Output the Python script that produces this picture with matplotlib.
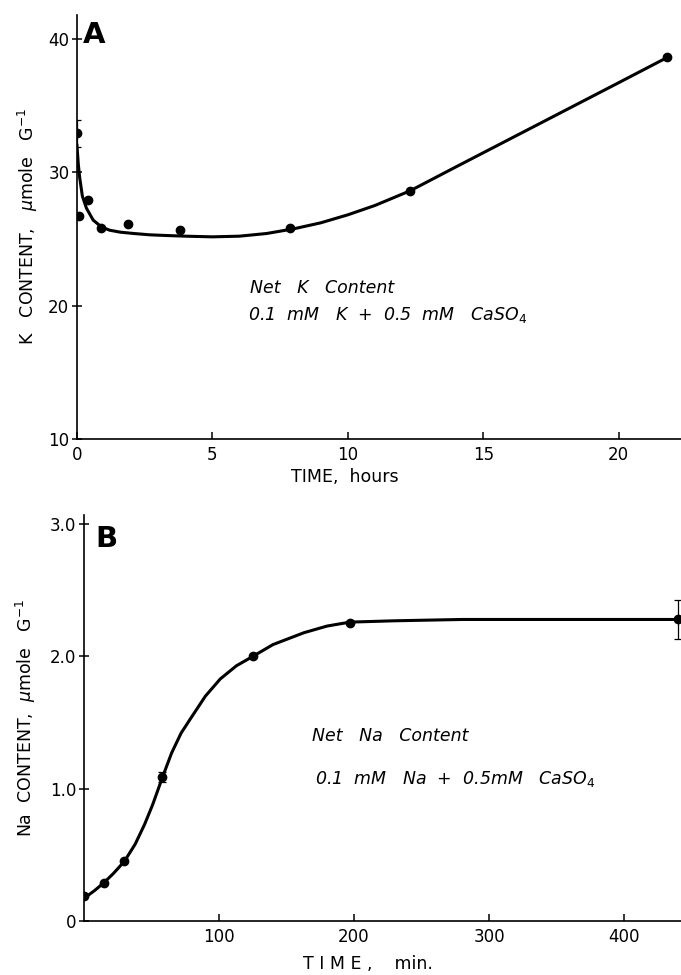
import matplotlib
matplotlib.use("Agg")
import matplotlib.pyplot as plt

# Panel A: net K content vs time (hours)
k_time = [0.0, 0.08, 0.4, 0.9, 1.9, 3.8, 7.85, 12.3, 21.8]
k_content = [32.9, 26.7, 27.9, 25.8, 26.1, 25.7, 25.8, 28.6, 38.6]
k_err = [1.0, 0, 0, 0, 0, 0, 0, 0, 0]
# hand-drawn smooth curve
k_curve_t = [0.0, 0.05, 0.1, 0.2, 0.35, 0.6, 0.9, 1.2, 1.6, 2.1, 2.7, 3.3,
             4.0, 5.0, 6.0, 7.0, 8.0, 9.0, 10.0, 11.0, 12.3, 14.0, 16.0,
             18.0, 20.0, 21.8]
k_curve_v = [32.0, 30.6, 29.6, 28.2, 27.3, 26.4, 25.9, 25.65, 25.5, 25.4,
             25.3, 25.25, 25.2, 25.15, 25.2, 25.4, 25.75, 26.2, 26.8, 27.5,
             28.6, 30.4, 32.5, 34.6, 36.7, 38.6]

# Panel B: net Na content vs time (min)
na_time = [0, 15, 30, 58, 125, 197, 440]
na_content = [0.19, 0.29, 0.45, 1.09, 2.00, 2.25, 2.28]
na_err = [0, 0, 0, 0.04, 0, 0, 0.15]
na_curve_t = [0, 8, 15, 22, 30, 38, 45, 51, 58, 65, 72, 79, 90, 101, 113,
              125, 140, 163, 180, 197, 230, 280, 340, 400, 440]
na_curve_v = [0.17, 0.23, 0.29, 0.36, 0.45, 0.58, 0.73, 0.88, 1.08, 1.27,
              1.42, 1.53, 1.70, 1.83, 1.93, 2.00, 2.09, 2.18, 2.23, 2.26,
              2.27, 2.28, 2.28, 2.28, 2.28]

plt.rcParams["font.family"] = "DejaVu Sans"

fig = plt.figure(figsize=(6.81, 9.75), dpi=100)
fig.patch.set_facecolor("white")
ax_a = fig.add_axes([0.113, 0.5497, 0.887, 0.4353])
ax_b = fig.add_axes([0.123, 0.0554, 0.877, 0.4164])


def style(axis):
    for side in ("top", "right"):
        axis.spines[side].set_visible(False)
    for side in ("left", "bottom"):
        axis.spines[side].set_linewidth(1.2)
    axis.tick_params(axis="x", direction="in", length=5, width=1.1,
                     labelsize=12, pad=5)
    axis.tick_params(axis="y", direction="inout", length=7, width=1.1,
                     labelsize=12, pad=2)


# ---- A ----
style(ax_a)
ax_a.plot(k_curve_t, k_curve_v, color="black", lw=2.2, zorder=2)
ax_a.errorbar(k_time, k_content, yerr=k_err, fmt="o", color="black",
              markersize=6, elinewidth=0.9, capsize=3, capthick=0.9, zorder=3)
ax_a.set_xlim(0, 22.3)
ax_a.set_ylim(10, 41.8)
ax_a.set_xticks([0, 5, 10, 15, 20])
ax_a.set_yticks([10, 20, 30, 40])
ax_a.set_xlabel("TIME,  hours", fontsize=12.5)
ax_a.xaxis.set_label_coords(0.444, -0.068)
ax_a.set_ylabel("K   CONTENT,   $\\mu$mole   G$^{-1}$", fontsize=12.5)
ax_a.yaxis.set_label_coords(-0.062, 0.5)
ax_a.text(0.01, 0.934, "A", transform=ax_a.transAxes, fontsize=21,
          fontweight="bold", va="baseline")
ax_a.text(6.4, 21.3, "Net   K   Content", fontsize=12.5, style="italic",
          va="center")
ax_a.text(6.3, 19.3, "0.1  mM   K  +  0.5  mM   CaSO$_4$", fontsize=12.5,
          style="italic", va="center")

# ---- B ----
style(ax_b)
ax_b.plot(na_curve_t, na_curve_v, color="black", lw=2.2, zorder=2)
ax_b.errorbar(na_time, na_content, yerr=na_err, fmt="o", color="black",
              markersize=6, elinewidth=0.9, capsize=3, capthick=0.9, zorder=3)
ax_b.set_xlim(0, 442)
ax_b.set_ylim(0, 3.07)
ax_b.set_xticks([100, 200, 300, 400])
ax_b.set_yticks([0, 1.0, 2.0, 3.0])
ax_b.set_yticklabels(["0", "1.0", "2.0", "3.0"])
ax_b.set_xlabel("T I M E ,    min.", fontsize=12.5)
ax_b.xaxis.set_label_coords(0.475, -0.084)
ax_b.set_ylabel("Na  CONTENT,  $\\mu$mole   G$^{-1}$", fontsize=12.5)
ax_b.yaxis.set_label_coords(-0.077, 0.5)
ax_b.text(0.02, 0.92, "B", transform=ax_b.transAxes, fontsize=21,
          fontweight="bold", va="baseline")
ax_b.text(169, 1.40, "Net   Na   Content", fontsize=12.5, style="italic",
          va="center")
ax_b.text(171, 1.07, "0.1  mM   Na  +  0.5mM   CaSO$_4$", fontsize=12.5,
          style="italic", va="center")

fig.savefig("out.png", dpi=100, facecolor="white")
